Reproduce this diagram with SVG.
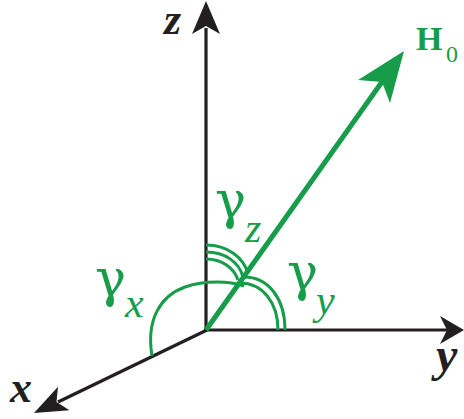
<svg xmlns="http://www.w3.org/2000/svg" width="464" height="419" viewBox="0 0 464 419">
<style>
.ax{stroke:#231f20;stroke-width:3.2;fill:none}
.ah{fill:#231f20}
.g{stroke:#179c4a;fill:none;stroke-width:3}
.gf{fill:#179c4a}
.lab{font-family:"Liberation Serif",serif;font-weight:bold;font-style:italic;fill:#231f20}
.gam{font-family:"DejaVu Serif",serif;fill:#179c4a}
.sub{font-family:"Liberation Serif",serif;font-style:italic;fill:#179c4a}
</style>
<rect width="464" height="419" fill="#ffffff"/>
<g id="connectors">
<line class="ax" x1="206" y1="331" x2="206" y2="28"/>
<polygon class="ah" points="206,1 220,34 206,26 192,34"/>
<line class="ax" x1="204" y1="330" x2="448" y2="330"/>
<polygon class="ah" points="464,330 440,344 447,330 440,316"/>
<line class="ax" x1="207" y1="330" x2="58" y2="402"/>
<polygon class="ah" points="34,413 58,386.8 56.5,402 69.4,410.2"/>
<line x1="206" y1="330" x2="384" y2="79" stroke="#179c4a" stroke-width="5"/>
<polygon class="gf" points="404,51 390,103 382,82 358,80"/>
</g>
<g id="gamma_z">
<path class="g" d="M206,245 C228,245 244,258 248,274"/>
<path class="g" d="M206,252 C225,252 239,262 243,277"/>
<path class="g" d="M206,259 C222,259 234,268 238,280"/>
<text class="gam" x="215" y="218" font-size="52">γ</text>
<text class="sub" x="245" y="242" font-size="42">z</text>
</g>
<g id="gamma_y">
<path class="g" d="M244,277 C268,277 285,298 285,330"/>
<path class="g" d="M240,283 C262,283 278,302 278,330"/>
<text class="gam" x="287" y="290" font-size="52">γ</text>
<text class="sub" x="316" y="314" font-size="42">y</text>
</g>
<g id="gamma_x">
<path class="g" d="M244,286 C230,281 205,280 185,287 C160,296 146,320 152,356"/>
<text class="gam" x="95" y="296" font-size="52">γ</text>
<text class="sub" x="125" y="317" font-size="42">x</text>
</g>
<g id="H0">
<text x="416" y="50" font-family="Liberation Serif,serif" font-weight="bold" font-size="34" fill="#179c4a">H</text>
<text x="446" y="62" font-family="Liberation Serif,serif" font-size="24" fill="#179c4a">0</text>
</g>
<g id="axis_labels">
<text class="lab" x="164" y="34" font-size="44">z</text>
<text class="lab" x="10" y="402" font-size="44">x</text>
<text class="lab" x="436" y="371" font-size="48">y</text>
</g>
</svg>
